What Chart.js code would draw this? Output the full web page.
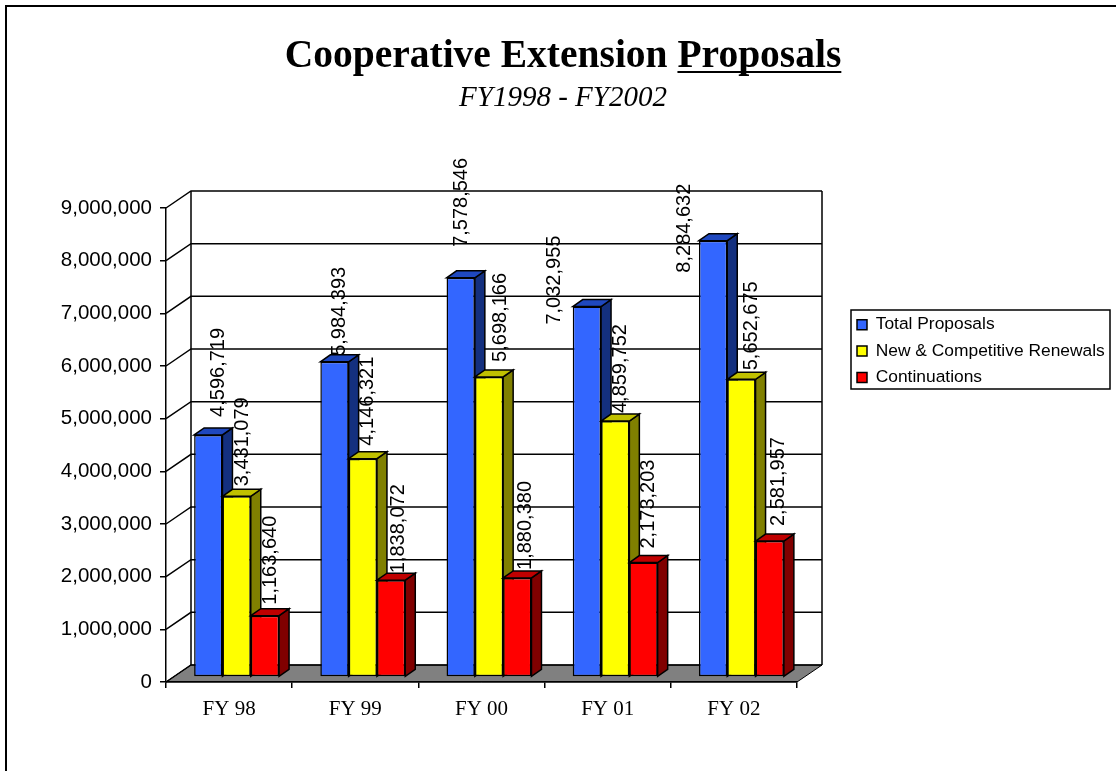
<!DOCTYPE html>
<html>
<head>
<meta charset="utf-8">
<title>Cooperative Extension Proposals</title>
<script src="https://cdn.jsdelivr.net/npm/chart.js@4"></script>
<style>
  html, body { margin: 0; padding: 0; background: #fff; }
  #wrap { width: 1116px; height: 771px; }
</style>
</head>
<body>
<div id="wrap"><canvas id="myChart" width="1116" height="771"></canvas></div>
<script>
const categories = ['FY 98', 'FY 99', 'FY 00', 'FY 01', 'FY 02'];
const totalProposals = [4596719, 5984393, 7578546, 7032955, 8284632];
const newCompetitive = [3431079, 4146321, 5698166, 4859752, 5652675];
const continuations = [1163640, 1838072, 1880380, 2173203, 2581957];
const seriesNames = ['Total Proposals', 'New & Competitive Renewals', 'Continuations'];

// the 3D look: how far the bars and the back wall sit from the front plane
const BAR_SHIFT = { x: 7.5, y: -5 };
const BAR_DEPTH = { x: 10, y: -7 };
const WALL = { x: 25, y: -17 };
const LEGEND_FRAME = { left: 851, top: 310, right: 1110, bottom: 389 };

// the data labels are hand placed in the original, dx/dy from the bar's top
const labelNudge = [
  [[10, -18], [5, -6], [1, -31], [-32, 18], [-29, 32]],
  [[6, -10], [5, -13], [11, -15], [5, -8], [10, -9]],
  [[6, -11], [7, -7], [8, -8], [5, -14], [9, -15]]
];

const faces = [
  { front: '#3366ff', side: '#14307f', top: '#1f48bf' },
  { front: '#ffff00', side: '#808000', top: '#c0c000' },
  { front: '#ff0000', side: '#800000', top: '#c00000' }
];

function poly(ctx, pts, fill) {
  ctx.beginPath();
  pts.forEach((p, i) => i ? ctx.lineTo(p[0], p[1]) : ctx.moveTo(p[0], p[1]));
  ctx.closePath();
  if (fill) { ctx.fillStyle = fill; ctx.fill(); }
  ctx.stroke();
}

const walls3d = {
  id: 'walls3d',
  afterLayout(chart) {
    // move the legend next to the plot, bottom is loose so the rows don't wrap
    const lg = chart.legend;
    lg.left = 848; lg.right = 1112; lg.top = 307; lg.bottom = 430;
    // titles sit at the top of the page, centred a bit right of it
    chart.boxes.filter(b => b.options && b.options.text !== undefined).forEach(b => {
      b.left = 5; b.right = 1121;
      b.top = b === chart.titleBlock ? 37 : 84;
    });
  },
  beforeDraw(chart) {
    const ctx = chart.ctx, y = chart.scales.y;
    const a = chart.chartArea;
    ctx.save();
    ctx.strokeStyle = '#000';
    ctx.lineWidth = 2;
    // page frame, only left and top show in the crop
    ctx.beginPath();
    ctx.moveTo(6, 771);
    ctx.lineTo(6, 6);
    ctx.lineTo(1116, 6);
    ctx.stroke();
    // floor
    ctx.lineWidth = 1;
    poly(ctx, [[a.left, a.bottom], [a.left + WALL.x, a.bottom + WALL.y],
      [a.right + WALL.x, a.bottom + WALL.y], [a.right, a.bottom]], '#808080');
    // gridlines on the back wall with their run along the side wall
    ctx.lineWidth = 1.5;
    y.ticks.forEach(t => {
      const py = y.getPixelForValue(t.value);
      ctx.beginPath();
      ctx.moveTo(a.left, py);
      ctx.lineTo(a.left + WALL.x, py + WALL.y);
      ctx.lineTo(a.right + WALL.x, py + WALL.y);
      ctx.stroke();
    });
    ctx.beginPath();
    ctx.moveTo(a.left + WALL.x, a.top + WALL.y);
    ctx.lineTo(a.left + WALL.x, a.bottom + WALL.y);
    ctx.moveTo(a.right + WALL.x, a.top + WALL.y);
    ctx.lineTo(a.right + WALL.x, a.bottom + WALL.y);
    ctx.stroke();
    ctx.restore();
  },
  beforeDatasetsDraw(chart) {
    // blue first, red last, so each bar covers the side of the one before it
    const ctx = chart.ctx;
    chart.data.datasets.forEach((ds, i) => {
      const f = faces[i];
      chart.getDatasetMeta(i).data.forEach(el => {
        const p = el.getProps(['x', 'y', 'base', 'width']);
        const l = p.x - p.width / 2, r = p.x + p.width / 2;
        const d = BAR_DEPTH;
        ctx.save();
        ctx.translate(BAR_SHIFT.x, BAR_SHIFT.y);
        ctx.strokeStyle = '#000';
        ctx.lineWidth = 1.5;
        poly(ctx, [[r, p.y], [r + d.x, p.y + d.y], [r + d.x, p.base + d.y], [r, p.base]], f.side);
        poly(ctx, [[l, p.y], [l + d.x, p.y + d.y], [r + d.x, p.y + d.y], [r, p.y]], f.top);
        el.draw(ctx);
        ctx.restore();
      });
    });
    return false;
  },
  afterDraw(chart) {
    const ctx = chart.ctx;
    ctx.save();
    // data labels
    ctx.fillStyle = '#000';
    ctx.font = '20px "Liberation Sans"';
    ctx.textAlign = 'left';
    ctx.textBaseline = 'middle';
    chart.data.datasets.forEach((ds, i) => {
      chart.getDatasetMeta(i).data.forEach((el, j) => {
        const n = labelNudge[i][j];
        const p = el.getProps(['x', 'y']);
        ctx.save();
        ctx.translate(p.x + BAR_SHIFT.x + n[0], p.y + BAR_SHIFT.y + n[1]);
        ctx.rotate(-Math.PI / 2);
        ctx.fillText(ds.data[j].toLocaleString('en-US'), 0, 0);
        ctx.restore();
      });
    });
    // legend frame
    const lf = LEGEND_FRAME;
    ctx.strokeStyle = '#000';
    ctx.lineWidth = 1.5;
    ctx.strokeRect(lf.left, lf.top, lf.right - lf.left, lf.bottom - lf.top);
    // "Proposals" is underlined in the title
    const tb = chart.titleBlock, txt = chart.options.plugins.title.text;
    ctx.font = 'bold 39.5px "Liberation Serif"';
    const full = ctx.measureText(txt).width;
    const rest = ctx.measureText('Cooperative Extension ').width;
    const x0 = (tb.left + tb.right) / 2 - full / 2 + rest;
    ctx.fillRect(x0, 71, full - rest, 2);
    ctx.restore();
  }
};

new Chart(document.getElementById('myChart'), {
  type: 'bar',
  data: {
    labels: categories,
    datasets: [
      { label: seriesNames[0], data: totalProposals, backgroundColor: faces[0].front },
      { label: seriesNames[1], data: newCompetitive, backgroundColor: faces[1].front },
      { label: seriesNames[2], data: continuations, backgroundColor: faces[2].front }
    ]
  },
  plugins: [walls3d],
  options: {
    responsive: false,
    animation: false,
    layout: { padding: { top: 131.5, right: 319, bottom: 0, left: 0 } },
    datasets: { bar: { barPercentage: 1, categoryPercentage: 0.673, borderColor: '#000', borderWidth: 1.5, borderSkipped: false } },
    scales: {
      x: {
        grid: { drawOnChartArea: false, color: '#000', tickLength: 6, lineWidth: 1.5 },
        border: { color: '#000', width: 1.5 },
        ticks: { color: '#000', font: { family: '"Liberation Serif"', size: 21 }, padding: 9 },
        afterFit(s) { s.height = 89; }
      },
      y: {
        min: 0,
        max: 9000000,
        grid: { drawOnChartArea: false, color: '#000', tickLength: 6, lineWidth: 1.5 },
        border: { color: '#000', width: 1.5 },
        ticks: {
          stepSize: 1000000,
          color: '#000',
          font: { family: '"Liberation Sans"', size: 20.5 },
          padding: 8,
          callback: v => v.toLocaleString('en-US')
        },
        afterFit(s) { s.width = 166; }
      }
    },
    plugins: {
      tooltip: { enabled: false },
      title: {
        display: true,
        text: 'Cooperative Extension Proposals',
        color: '#000',
        font: { family: '"Liberation Serif"', size: 39.5, weight: 'bold', lineHeight: 1 },
        padding: { top: 0, bottom: 8 }
      },
      subtitle: {
        display: true,
        text: 'FY1998 - FY2002',
        color: '#000',
        font: { family: '"Liberation Serif"', size: 29, style: 'italic', weight: 'normal', lineHeight: 1 },
        padding: 0
      },
      legend: {
        position: 'chartArea',
        align: 'start',
        labels: {
          color: '#000',
          font: { family: '"Liberation Sans"', size: 17.4 },
          boxWidth: 10,
          boxHeight: 10,
          padding: 9,
          usePointStyle: false
        }
      }
    }
  }
});
</script>
</body>
</html>
